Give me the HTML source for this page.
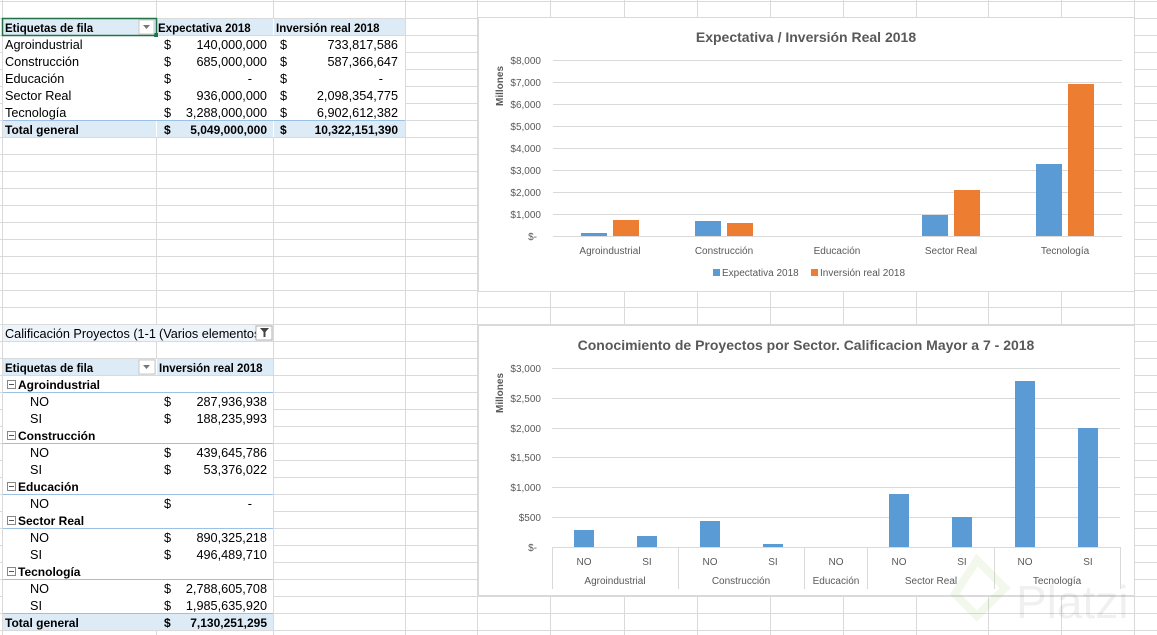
<!DOCTYPE html>
<html><head><meta charset="utf-8"><style>
html,body{margin:0;padding:0;background:#fff;}
svg{display:block;}
text{font-family:"Liberation Sans",sans-serif;}
.c{font-size:12.7px;fill:#000;}
.b{font-weight:bold;font-size:12px;}
.h{font-weight:bold;font-size:11.5px;}
.ax{font-size:10px;fill:#595959;}
.t{font-size:14px;font-weight:bold;fill:#595959;}
</style></head><body>
<svg width="1157" height="635" viewBox="0 0 1157 635" xmlns="http://www.w3.org/2000/svg">
<rect width="1157" height="635" fill="#fff"/>
<g stroke="#dadada" stroke-width="1">
<line x1="2.5" y1="0" x2="2.5" y2="635"/>
<line x1="156.5" y1="0" x2="156.5" y2="635"/>
<line x1="273.5" y1="0" x2="273.5" y2="635"/>
<line x1="405.5" y1="0" x2="405.5" y2="635"/>
<line x1="477.5" y1="0" x2="477.5" y2="635"/>
<line x1="550.5" y1="0" x2="550.5" y2="635"/>
<line x1="624.5" y1="0" x2="624.5" y2="635"/>
<line x1="697.5" y1="0" x2="697.5" y2="635"/>
<line x1="770.5" y1="0" x2="770.5" y2="635"/>
<line x1="843.5" y1="0" x2="843.5" y2="635"/>
<line x1="916.5" y1="0" x2="916.5" y2="635"/>
<line x1="988.5" y1="0" x2="988.5" y2="635"/>
<line x1="1061.5" y1="0" x2="1061.5" y2="635"/>
<line x1="1134.5" y1="0" x2="1134.5" y2="635"/>
<line x1="0" y1="1.5" x2="1157" y2="1.5"/><line x1="0" y1="18.5" x2="1157" y2="18.5"/><line x1="0" y1="35.5" x2="1157" y2="35.5"/><line x1="0" y1="52.5" x2="1157" y2="52.5"/><line x1="0" y1="69.5" x2="1157" y2="69.5"/><line x1="0" y1="86.5" x2="1157" y2="86.5"/><line x1="0" y1="103.5" x2="1157" y2="103.5"/><line x1="0" y1="120.5" x2="1157" y2="120.5"/><line x1="0" y1="137.5" x2="1157" y2="137.5"/><line x1="0" y1="154.5" x2="1157" y2="154.5"/><line x1="0" y1="171.5" x2="1157" y2="171.5"/><line x1="0" y1="188.5" x2="1157" y2="188.5"/><line x1="0" y1="205.5" x2="1157" y2="205.5"/><line x1="0" y1="222.5" x2="1157" y2="222.5"/><line x1="0" y1="239.5" x2="1157" y2="239.5"/><line x1="0" y1="256.5" x2="1157" y2="256.5"/><line x1="0" y1="273.5" x2="1157" y2="273.5"/><line x1="0" y1="290.5" x2="1157" y2="290.5"/><line x1="0" y1="307.5" x2="1157" y2="307.5"/><line x1="0" y1="324.5" x2="1157" y2="324.5"/><line x1="0" y1="341.5" x2="1157" y2="341.5"/><line x1="0" y1="358.5" x2="1157" y2="358.5"/><line x1="0" y1="375.5" x2="1157" y2="375.5"/><line x1="0" y1="392.5" x2="1157" y2="392.5"/><line x1="0" y1="409.5" x2="1157" y2="409.5"/><line x1="0" y1="426.5" x2="1157" y2="426.5"/><line x1="0" y1="443.5" x2="1157" y2="443.5"/><line x1="0" y1="460.5" x2="1157" y2="460.5"/><line x1="0" y1="477.5" x2="1157" y2="477.5"/><line x1="0" y1="494.5" x2="1157" y2="494.5"/><line x1="0" y1="511.5" x2="1157" y2="511.5"/><line x1="0" y1="528.5" x2="1157" y2="528.5"/><line x1="0" y1="545.5" x2="1157" y2="545.5"/><line x1="0" y1="562.5" x2="1157" y2="562.5"/><line x1="0" y1="579.5" x2="1157" y2="579.5"/><line x1="0" y1="596.5" x2="1157" y2="596.5"/><line x1="0" y1="613.5" x2="1157" y2="613.5"/><line x1="0" y1="630.5" x2="1157" y2="630.5"/>
</g>

<rect x="3" y="19" width="402" height="16" fill="#ddebf7"/>
<rect x="3" y="121" width="402" height="16" fill="#ddebf7"/>
<g stroke="#fff"><line x1="156.5" y1="19" x2="156.5" y2="35"/><line x1="273.5" y1="19" x2="273.5" y2="35"/><line x1="156.5" y1="36" x2="156.5" y2="137"/><line x1="273.5" y1="36" x2="273.5" y2="137"/><line x1="3" y1="52.5" x2="405" y2="52.5"/><line x1="3" y1="69.5" x2="405" y2="69.5"/><line x1="3" y1="86.5" x2="405" y2="86.5"/><line x1="3" y1="103.5" x2="405" y2="103.5"/></g>
<line x1="3" y1="120.5" x2="405" y2="120.5" stroke="#9bc2e6"/>
<rect x="2.5" y="18.5" width="154" height="17" fill="none" stroke="#217346" stroke-width="1.5"/>
<rect x="154" y="33" width="4" height="4" fill="#217346"/>
<rect x="139" y="20" width="15" height="14" fill="#fff" stroke="#c8c8c8"/>
<path d="M143 25 L150 25 L146.5 29 Z" fill="#777"/>
<text class="c h" x="5" y="32">Etiquetas de fila</text>
<text class="c h" x="158" y="32">Expectativa 2018</text>
<text class="c h" x="276" y="32">Inversión real 2018</text>
<g class="c">
<text x="5" y="49">Agroindustrial</text><text x="164" y="49">$</text><text x="267" y="49" text-anchor="end">140,000,000</text><text x="280" y="49">$</text><text x="398" y="49" text-anchor="end">733,817,586</text>
<text x="5" y="66">Construcción</text><text x="164" y="66">$</text><text x="267" y="66" text-anchor="end">685,000,000</text><text x="280" y="66">$</text><text x="398" y="66" text-anchor="end">587,366,647</text>
<text x="5" y="83">Educación</text><text x="164" y="83">$</text><text x="252" y="83" text-anchor="end">-</text><text x="280" y="83">$</text><text x="383" y="83" text-anchor="end">-</text>
<text x="5" y="100">Sector Real</text><text x="164" y="100">$</text><text x="267" y="100" text-anchor="end">936,000,000</text><text x="280" y="100">$</text><text x="398" y="100" text-anchor="end">2,098,354,775</text>
<text x="5" y="117">Tecnología</text><text x="164" y="117">$</text><text x="267" y="117" text-anchor="end">3,288,000,000</text><text x="280" y="117">$</text><text x="398" y="117" text-anchor="end">6,902,612,382</text>
</g>
<g class="c b">
<text x="5" y="134">Total general</text><text x="164" y="134">$</text><text x="267" y="134" text-anchor="end">5,049,000,000</text><text x="280" y="134">$</text><text x="398" y="134" text-anchor="end">10,322,151,390</text>
</g>

<rect x="3" y="325" width="270" height="16" fill="#eef4fb"/>
<line x1="156.5" y1="325" x2="156.5" y2="341" stroke="#eef4fb"/>
<text class="c" x="5" y="338" fill="#222">Calificación Proyectos (1-1(</text>
<rect x="156" y="325" width="117" height="16" fill="#eef4fb"/>
<text class="c" x="159" y="338">(Varios elementos</text>
<rect x="256" y="326" width="16" height="14" fill="#fff" stroke="#b0b0b0"/>
<path d="M260 328 L269 328 L265.5 332 L265.5 337 L263.5 337 L263.5 332 Z" fill="#444"/>
<rect x="3" y="359" width="270" height="16" fill="#ddebf7"/>
<line x1="156.5" y1="359" x2="156.5" y2="375" stroke="#fff"/>
<rect x="139" y="360" width="16" height="14" fill="#fff" stroke="#c8c8c8"/>
<path d="M143 365 L150 365 L146.5 369 Z" fill="#777"/>
<text class="c h" x="5" y="372">Etiquetas de fila</text>
<text class="c h" x="159" y="372">Inversión real 2018</text>
<rect x="3" y="376" width="270" height="237" fill="#fff"/>
<g stroke="#9bc2e6"><line x1="3" y1="392.5" x2="273" y2="392.5"/><line x1="3" y1="443.5" x2="273" y2="443.5"/><line x1="3" y1="494.5" x2="273" y2="494.5"/><line x1="3" y1="528.5" x2="273" y2="528.5"/><line x1="3" y1="579.5" x2="273" y2="579.5"/><line x1="3" y1="613.5" x2="273" y2="613.5"/></g>
<rect x="3" y="614" width="270" height="16" fill="#ddebf7"/>
<g fill="none" stroke="#888"><rect x="7.5" y="380.5" width="8" height="8"/><rect x="7.5" y="431.5" width="8" height="8"/><rect x="7.5" y="482.5" width="8" height="8"/><rect x="7.5" y="516.5" width="8" height="8"/><rect x="7.5" y="567.5" width="8" height="8"/></g>
<g stroke="#555"><line x1="9" y1="384.5" x2="14" y2="384.5"/><line x1="9" y1="435.5" x2="14" y2="435.5"/><line x1="9" y1="486.5" x2="14" y2="486.5"/><line x1="9" y1="520.5" x2="14" y2="520.5"/><line x1="9" y1="571.5" x2="14" y2="571.5"/></g>
<g class="c b"><text x="18" y="389">Agroindustrial</text><text x="18" y="440">Construcción</text><text x="18" y="491">Educación</text><text x="18" y="525">Sector Real</text><text x="18" y="576">Tecnología</text></g>
<g class="c">
<text x="30" y="406">NO</text><text x="164" y="406">$</text><text x="267" y="406" text-anchor="end">287,936,938</text>
<text x="30" y="423">SI</text><text x="164" y="423">$</text><text x="267" y="423" text-anchor="end">188,235,993</text>
<text x="30" y="457">NO</text><text x="164" y="457">$</text><text x="267" y="457" text-anchor="end">439,645,786</text>
<text x="30" y="474">SI</text><text x="164" y="474">$</text><text x="267" y="474" text-anchor="end">53,376,022</text>
<text x="30" y="508">NO</text><text x="164" y="508">$</text><text x="252" y="508" text-anchor="end">-</text>
<text x="30" y="542">NO</text><text x="164" y="542">$</text><text x="267" y="542" text-anchor="end">890,325,218</text>
<text x="30" y="559">SI</text><text x="164" y="559">$</text><text x="267" y="559" text-anchor="end">496,489,710</text>
<text x="30" y="593">NO</text><text x="164" y="593">$</text><text x="267" y="593" text-anchor="end">2,788,605,708</text>
<text x="30" y="610">SI</text><text x="164" y="610">$</text><text x="267" y="610" text-anchor="end">1,985,635,920</text>
</g>
<g class="c b"><text x="5" y="627">Total general</text><text x="164" y="627">$</text><text x="267" y="627" text-anchor="end">7,130,251,295</text></g>

<!-- Chart 1 -->
<rect x="478.5" y="17.5" width="656" height="274" fill="#fff" stroke="#d9d9d9"/>
<text class="t" x="806" y="42" text-anchor="middle">Expectativa / Inversión Real 2018</text>
<g stroke="#d9d9d9"><line x1="553" y1="60.5" x2="1122" y2="60.5"/><line x1="553" y1="82.5" x2="1122" y2="82.5"/><line x1="553" y1="104.5" x2="1122" y2="104.5"/><line x1="553" y1="126.5" x2="1122" y2="126.5"/><line x1="553" y1="148.5" x2="1122" y2="148.5"/><line x1="553" y1="170.5" x2="1122" y2="170.5"/><line x1="553" y1="192.5" x2="1122" y2="192.5"/><line x1="553" y1="214.5" x2="1122" y2="214.5"/><line x1="553" y1="236.5" x2="1122" y2="236.5"/></g>
<g class="ax" text-anchor="end"><text x="541" y="64">$8,000</text><text x="541" y="86">$7,000</text><text x="541" y="108">$6,000</text><text x="541" y="130">$5,000</text><text x="541" y="152">$4,000</text><text x="541" y="174">$3,000</text><text x="541" y="196">$2,000</text><text x="541" y="218">$1,000</text><text x="537" y="240">$-</text></g>
<text class="ax" font-weight="bold" transform="translate(503,86) rotate(-90)" text-anchor="middle" font-size="10.5">Millones</text>
<g fill="#5b9bd5"><rect x="581" y="233" width="26" height="3"/><rect x="695" y="221" width="26" height="15"/><rect x="922" y="215" width="26" height="21"/><rect x="1036" y="164" width="26" height="72"/></g>
<g fill="#ed7d31"><rect x="613" y="220" width="26" height="16"/><rect x="727" y="223" width="26" height="13"/><rect x="954" y="190" width="26" height="46"/><rect x="1068" y="84" width="26" height="152"/></g>
<g class="ax" text-anchor="middle"><text x="610" y="254">Agroindustrial</text><text x="724" y="254">Construcción</text><text x="837" y="254">Educación</text><text x="951" y="254">Sector Real</text><text x="1065" y="254">Tecnología</text></g>
<rect x="713" y="269" width="7" height="7" fill="#5b9bd5"/><text class="ax" x="722" y="276">Expectativa 2018</text>
<rect x="811" y="269" width="7" height="7" fill="#ed7d31"/><text class="ax" x="820" y="276">Inversión real 2018</text>

<!-- Chart 2 -->
<rect x="478.5" y="325.5" width="656" height="270" fill="#fff" stroke="#d9d9d9"/>
<text class="t" x="806" y="350" text-anchor="middle">Conocimiento de Proyectos por Sector. Calificacion Mayor a 7 - 2018</text>
<g stroke="#d9d9d9"><line x1="552" y1="368.5" x2="1120" y2="368.5"/><line x1="552" y1="398.5" x2="1120" y2="398.5"/><line x1="552" y1="428.5" x2="1120" y2="428.5"/><line x1="552" y1="457.5" x2="1120" y2="457.5"/><line x1="552" y1="487.5" x2="1120" y2="487.5"/><line x1="552" y1="517.5" x2="1120" y2="517.5"/><line x1="552" y1="547.5" x2="1120" y2="547.5"/>
<line x1="552.5" y1="547" x2="552.5" y2="589"/><line x1="678.5" y1="547" x2="678.5" y2="589"/><line x1="804.5" y1="547" x2="804.5" y2="589"/><line x1="867.5" y1="547" x2="867.5" y2="589"/><line x1="994.5" y1="547" x2="994.5" y2="589"/><line x1="1120.5" y1="547" x2="1120.5" y2="589"/></g>
<g class="ax" text-anchor="end"><text x="541" y="372">$3,000</text><text x="541" y="402">$2,500</text><text x="541" y="432">$2,000</text><text x="541" y="461">$1,500</text><text x="541" y="491">$1,000</text><text x="541" y="521">$500</text><text x="537" y="551">$-</text></g>
<text class="ax" font-weight="bold" transform="translate(503,393) rotate(-90)" text-anchor="middle" font-size="10.5">Millones</text>
<g fill="#5b9bd5"><rect x="574" y="530" width="20" height="17"/><rect x="637" y="536" width="20" height="11"/><rect x="700" y="521" width="20" height="26"/><rect x="763" y="544" width="20" height="3"/><rect x="889" y="494" width="20" height="53"/><rect x="952" y="517" width="20" height="30"/><rect x="1015" y="381" width="20" height="166"/><rect x="1078" y="428" width="20" height="119"/></g>
<g class="ax" text-anchor="middle"><text x="584" y="565">NO</text><text x="647" y="565">SI</text><text x="710" y="565">NO</text><text x="773" y="565">SI</text><text x="836" y="565">NO</text><text x="899" y="565">NO</text><text x="962" y="565">SI</text><text x="1025" y="565">NO</text><text x="1088" y="565">SI</text>
<text x="615" y="584">Agroindustrial</text><text x="741" y="584">Construcción</text><text x="836" y="584">Educación</text><text x="931" y="584">Sector Real</text><text x="1057" y="584">Tecnología</text></g>

<text x="1016" y="618" font-size="46" fill="#000" fill-opacity="0.06" font-family="Liberation Sans,sans-serif">Platzi</text>
<path d="M977 560 L1005 588 L977 616 L955 594 Z" fill="none" stroke="#9cc46a" stroke-opacity="0.12" stroke-width="8"/>
</svg>
</body></html>
